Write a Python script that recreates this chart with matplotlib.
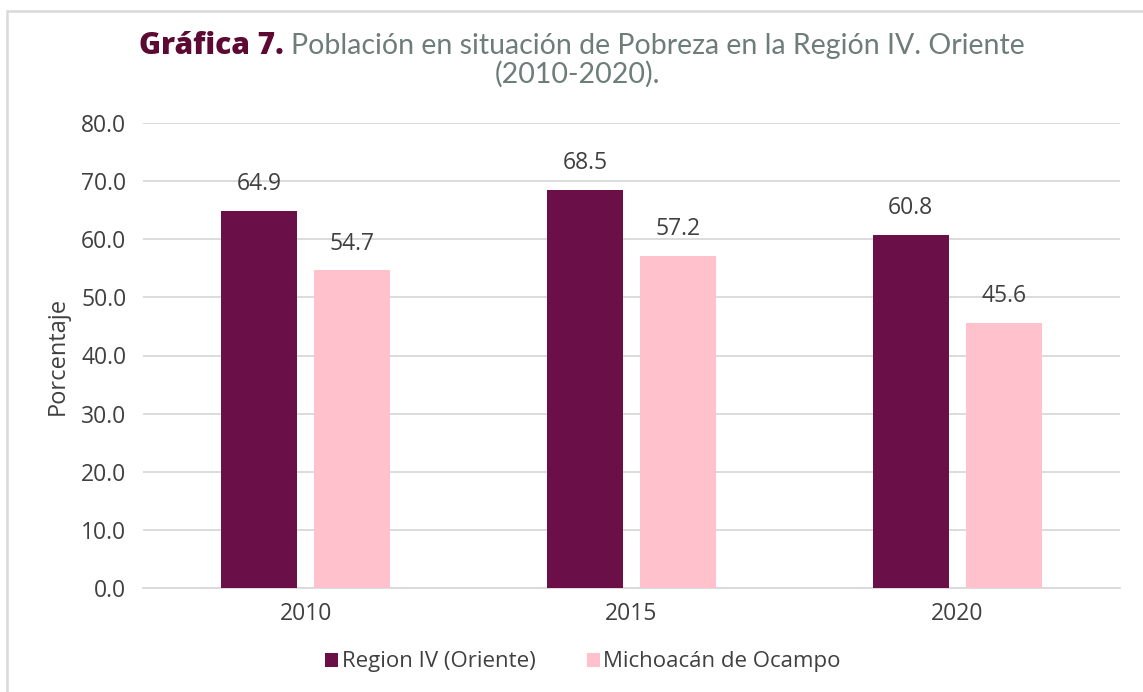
import matplotlib.pyplot as plt
import matplotlib.patches as mpatches
import numpy as np

# datos de la grafica
years = ['2010', '2015', '2020']
region_iv = [64.9, 68.5, 60.8]
michoacan = [54.7, 57.2, 45.6]
series_names = ['Region IV (Oriente)', 'Michoacán de Ocampo']

plt.rcParams['font.family'] = ['Open Sans', 'DejaVu Sans']

W, H = 1143, 692
fig = plt.figure(figsize=(W / 100, H / 100), dpi=100)

# borde gris del cuadro
fig.patches.append(mpatches.Rectangle((7 / W, -0.05), 1.2, 1 - 11 / H + 0.05,
                                      transform=fig.transFigure, fill=False,
                                      edgecolor='#d9d9d9', linewidth=1.8))

ax = fig.add_axes([143 / W, 104 / H, (1120 - 143) / W, (588 - 123) / H])

x = np.arange(len(years))
w = 0.233
off = 0.143
c_dark = '#6a0f47'
c_pink = '#ffc2cc'
txt = '#404040'
fs = 16.5
b1 = ax.bar(x - off, region_iv, w, color=c_dark, label=series_names[0], zorder=3)
b2 = ax.bar(x + off, michoacan, w, color=c_pink, label=series_names[1], zorder=3)

for bars in (b1, b2):
    for b in bars:
        ax.text(b.get_x() + b.get_width() / 2, b.get_height() + 2.5,
                '%.1f' % b.get_height(), ha='center', va='bottom',
                fontsize=fs, color=txt)

ax.set_xlim(-0.5, 2.5)
ax.set_ylim(0, 80)
ax.set_yticks(np.arange(0, 81, 10))
ax.set_yticklabels(['%.1f' % v for v in np.arange(0, 81, 10)])
ax.set_xticks(x)
ax.set_xticklabels(years)
ax.tick_params(axis='both', length=0, labelsize=fs, colors=txt)
ax.tick_params(axis='y', pad=12)
ax.tick_params(axis='x', pad=10)
ax.yaxis.grid(True, color='#d9d9d9', linewidth=1.3, zorder=0)
for s in ['top', 'right', 'left']:
    ax.spines[s].set_visible(False)
ax.spines['bottom'].set_color('#d9d9d9')
ax.spines['bottom'].set_linewidth(1.3)
ax.set_ylabel('Porcentaje', fontsize=17, color=txt, labelpad=8)

leg = fig.legend(handles=[b1, b2], labels=series_names, loc='center',
                 bbox_to_anchor=(583 / W, 1 - 662 / H), ncol=2, frameon=False,
                 fontsize=16, handlelength=0.6, handleheight=0.6,
                 handletextpad=0.15, columnspacing=2.3)
for t in leg.get_texts():
    t.set_color(txt)

# titulo en dos colores
fig.text(284 / W, 1 - 46 / H, 'Gráfica 7.', ha='right', va='center',
         fontsize=21.5, fontweight='heavy', color='#5c0a33')
fig.text(291 / W, 1 - 46 / H, 'Población en situación de Pobreza en la Región IV. Oriente',
         ha='left', va='center', fontsize=20.5, color='#6e7d7a',
         family=['Lato', 'DejaVu Sans'])
fig.text(577 / W, 1 - 74 / H, '(2010-2020).', ha='center', va='center',
         fontsize=20.5, color='#6e7d7a', family=['Lato', 'DejaVu Sans'])

plt.savefig('out.png', dpi=100)
